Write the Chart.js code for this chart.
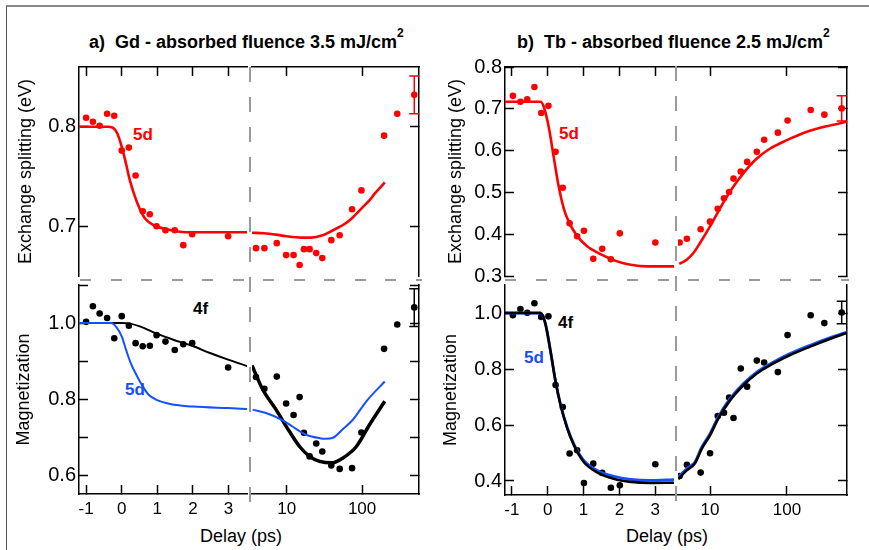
<!DOCTYPE html>
<html>
<head>
<meta charset="utf-8">
<script src="https://cdn.jsdelivr.net/npm/chart.js@4.4.1/dist/chart.umd.min.js"></script>
<style>
  body { margin: 0; background: #fff; }
  #fig { position: relative; width: 869px; height: 550px; overflow: hidden; font-family: "Liberation Sans", Arial, sans-serif; color: #000; }
  #fig canvas { position: absolute; }
  .frame { position: absolute; left: 6px; top: 5px; width: 900px; height: 600px; border-top: 2px solid #888; border-left: 1.5px solid #555; }
  .vdash { position: absolute; width: 2px; background: repeating-linear-gradient(to bottom, #9a9a9a 0 15px, transparent 15px 30px); }
  .hdash { position: absolute; height: 2px; background: repeating-linear-gradient(to right, #9a9a9a 0 11px, transparent 11px 30.5px); }
  .ttl { position: absolute; font: bold 18px/18px "Liberation Sans", Arial, sans-serif; white-space: nowrap; }
  .ttl sup { font-size: 12px; vertical-align: baseline; position: relative; top: -11.5px; margin-left: 0; }
  .xlab { position: absolute; font: 18px/18px "Liberation Sans", Arial, sans-serif; white-space: nowrap; }
  .tag { position: absolute; font: bold 17px/17px "Liberation Sans", Arial, sans-serif; }
</style>
</head>
<body>
<div id="fig">
  <div class="frame"></div>
  <div class="vdash" style="left:248.5px;top:67px;height:436px"></div>
  <div class="vdash" style="left:674.7px;top:66px;height:437px"></div>
  <div class="hdash" style="left:80px;top:278.5px;width:342px"></div>
  <div class="hdash" style="left:505px;top:279px;width:344px"></div>
  <div class="ttl" style="left:89px;top:33px">a)&nbsp; Gd - absorbed fluence 3.5 mJ/cm<sup>2</sup></div>
  <div class="ttl" style="left:517px;top:33px">b)&nbsp; Tb - absorbed fluence 2.5 mJ/cm<sup>2</sup></div>
  <div class="xlab" style="left:200px;top:527px">Delay (ps)</div>
  <div class="xlab" style="left:626px;top:527px">Delay (ps)</div>
  <div class="tag" style="left:133px;top:126px;color:#ff0000">5d</div>
  <div class="tag" style="left:193px;top:300px;color:#000">4f</div>
  <div class="tag" style="left:125px;top:381px;color:#1450ff">5d</div>
  <div class="tag" style="left:559px;top:124.5px;color:#ff0000">5d</div>
  <div class="tag" style="left:558px;top:314px;color:#000">4f</div>
  <div class="tag" style="left:524px;top:349px;color:#1450ff">5d</div>
</div>
<script>
// ticks
const delayLinTicks = [-1, 0, 1, 2, 3];
const delayLogTicks = [10, 100];
const gdEsTicks = [0.7, 0.8];
const gdEsTickLabels = ['0.7', '0.8'];
const gdMagTicks = [0.6, 0.7, 0.8, 0.9, 1.0, 1.1];
const gdMagTickLabels = ['0.6', '0.8', '1.0'];
const tbEsTicks = [0.3, 0.4, 0.5, 0.6, 0.7, 0.8];
const tbEsTickLabels = ['0.3', '0.4', '0.5', '0.6', '0.7', '0.8'];
const tbMagTicks = [0.4, 0.6, 0.8, 1.0];
const tbMagTickLabels = ['0.4', '0.6', '0.8', '1.0'];

// Gd measured points (delay in ps)
const gdDelay = [-1.0, -0.81, -0.62, -0.41, -0.21, 0.0, 0.2, 0.39, 0.59, 0.79, 0.98, 1.23, 1.49, 1.73, 1.98, 2.99,
  3.9, 5.04, 7.36, 9.8, 12.3, 14.8, 16.9, 20.1, 24.6, 29.6, 39, 50.4, 73.6, 98, 196, 293, 493];
const gdExchange = [0.809, 0.805, 0.801, 0.813, 0.811, 0.776, 0.779, 0.751, 0.715, 0.712, 0.700, 0.696, 0.696, 0.681, 0.692, 0.690,
  0.678, 0.678, 0.683, 0.671, 0.671, 0.661, 0.677, 0.677, 0.673, 0.668, 0.686, 0.691, 0.717, 0.736, 0.791, 0.813, 0.832];
const gdMag4f = [1.003, 1.044, 1.025, 1.013, 0.960, 1.018, 0.993, 0.947, 0.939, 0.940, 0.968, 0.951, 0.929, 0.944, 0.947, 0.883,
  0.858, 0.827, 0.859, 0.788, 0.758, 0.805, 0.711, 0.649, 0.683, 0.662, 0.625, 0.616, 0.618, 0.712, 0.932, 0.996, 1.041];
const gdExchangeErr = [0.813, 0.851];
const gdMagErr = [0.991, 1.090];

// Gd model curves
const gdEsFitLinT = [-1.2, -0.4, -0.25, -0.12, 0, 0.12, 0.23, 0.36, 0.5, 0.65, 0.9, 1.26, 1.82, 2.5, 3.52];
const gdEsFitLinV = [0.800, 0.800, 0.799, 0.793, 0.780, 0.763, 0.746, 0.731, 0.718, 0.708, 0.701, 0.697, 0.694, 0.694, 0.694];
const gdEsFitLogT = [3.45, 5, 7.2, 9.8, 15.5, 21, 30, 41, 55, 68.5, 85, 103, 125, 148, 175, 200];
const gdEsFitLogV = [0.6935, 0.693, 0.6916, 0.690, 0.6886, 0.6886, 0.691, 0.696, 0.701, 0.706, 0.713, 0.7195, 0.726, 0.733, 0.739, 0.744];
const gd4fFitLinT = [-1.2, 0, 0.2, 0.51, 0.98, 1.45, 1.98, 2.48, 2.99, 3.52];
const gd4fFitLinV = [1.0, 1.0, 0.999, 0.991, 0.972, 0.956, 0.940, 0.921, 0.9035, 0.887];
const gd5dFitLinT = [-1.2, -0.3, -0.14, 0, 0.12, 0.25, 0.42, 0.58, 0.75, 1.0, 1.36, 2.0, 3.0, 3.52];
const gd5dFitLinV = [1.0, 1.0, 0.988, 0.965, 0.93, 0.895, 0.862, 0.835, 0.812, 0.797, 0.787, 0.780, 0.776, 0.774];
const gd4fFitLogT = [3.45, 4.79, 7.2, 10.8, 14.8, 20, 27.3, 39, 55.8, 84, 126, 200];
const gd4fFitLogV = [0.888, 0.825, 0.772, 0.715, 0.675, 0.649, 0.636, 0.632, 0.645, 0.675, 0.733, 0.794];
const gd5dFitLogT = [3.52, 5.3, 8.85, 12, 18.1, 27.3, 33, 41, 55.8, 75.9, 114, 200];
const gd5dFitLogV = [0.772, 0.763, 0.744, 0.727, 0.706, 0.697, 0.6955, 0.698, 0.721, 0.746, 0.794, 0.846];

// Tb measured points
const tbDelay = [-0.97, -0.76, -0.57, -0.37, -0.18, 0.02, 0.22, 0.42, 0.61, 0.82, 1.01, 1.27, 1.52, 1.76, 2.01, 3.0,
  4.02, 5.0, 7.55, 10.0, 12.6, 15.2, 17.7, 20.2, 25.1, 30.4, 40.6, 50.6, 76.3, 102, 204, 307, 516];
const tbExchange = [0.731, 0.717, 0.723, 0.752, 0.690, 0.707, 0.597, 0.511, 0.426, 0.395, 0.408, 0.341, 0.365, 0.340, 0.402, 0.380,
  0.380, 0.389, 0.412, 0.430, 0.461, 0.486, 0.501, 0.533, 0.550, 0.573, 0.597, 0.626, 0.643, 0.672, 0.697, 0.686, 0.701];
const tbMag4f = [0.992, 1.014, 1.001, 1.035, 0.986, 0.988, 0.743, 0.664, 0.498, 0.510, 0.393, 0.462, 0.429, 0.376, 0.385, 0.460,
  0.418, 0.458, 0.430, 0.499, 0.632, 0.644, 0.698, 0.625, 0.802, 0.737, 0.830, 0.823, 0.789, 0.921, 0.992, 0.964, 1.002];
const tbExchangeErr = [0.671, 0.731];
const tbMagErr = [0.962, 1.042];

// Tb model curves
const tbEsFitLinT = [-1.2, -0.2, -0.11, 0.028, 0.167, 0.307, 0.447, 0.586, 0.819, 1.098, 1.47, 1.935, 2.307, 2.77, 3.52];
const tbEsFitLinV = [0.717, 0.717, 0.705, 0.657, 0.585, 0.514, 0.462, 0.430, 0.396, 0.371, 0.3525, 0.335, 0.327, 0.323, 0.323];
const tbEsFitLogT = [3.98, 4.97, 6.07, 7.41, 10, 13.5, 18.2, 27.2, 40.6, 60.6, 100, 182, 331, 605];
const tbEsFitLogV = [0.329, 0.339, 0.355, 0.379, 0.4185, 0.462, 0.502, 0.546, 0.581, 0.605, 0.625, 0.645, 0.6585, 0.669];
const tbFitLinT = [-1.2, -0.2, -0.065, 0.074, 0.214, 0.353, 0.54, 0.726, 1.005, 1.377, 1.842, 2.307, 2.865, 3.52];
const tb5dFitLinV = [1.0, 1.0, 0.962, 0.867, 0.760, 0.676, 0.593, 0.533, 0.474, 0.438, 0.417, 0.406, 0.402, 0.405];
const tb4fFitLinV = [1.0, 1.0, 0.962, 0.867, 0.759, 0.674, 0.590, 0.529, 0.468, 0.431, 0.408, 0.397, 0.393, 0.394];
const tbFitLogT = [3.86, 4.97, 6.37, 7.79, 10, 12.8, 18.2, 27.2, 40.6, 67, 110, 201, 367, 606];
const tb5dFitLogV = [0.414, 0.444, 0.468, 0.521, 0.569, 0.629, 0.694, 0.748, 0.789, 0.825, 0.855, 0.885, 0.912, 0.932];
const tb4fFitLogV = [0.407, 0.438, 0.463, 0.515, 0.563, 0.623, 0.688, 0.742, 0.784, 0.820, 0.850, 0.880, 0.908, 0.929];

const RED = '#ff0000';
const BLUE = '#1450ff';
const BLACK = '#000000';
const FONT = "'Liberation Sans', Arial, sans-serif";
Chart.defaults.font.family = FONT;
Chart.defaults.color = '#000';

const fig = document.getElementById('fig');
const isLin = t => t < 3.5;
const isLog = t => t >= 3.5;

// error bars drawn with the chart's own scales
const errorBars = {
  id: 'errorBars',
  afterDatasetsDraw(chart) {
    const ctx = chart.ctx;
    const xs = chart.scales.x, ys = chart.scales.y;
    chart.data.datasets.forEach(ds => {
      if (!ds.errRange) return;
      ds.data.forEach(p => {
        const px = xs.getPixelForValue(p.x);
        const lo = ys.getPixelForValue(ds.errRange[0]);
        const hi = ys.getPixelForValue(ds.errRange[1]);
        ctx.save();
        ctx.strokeStyle = ds.borderColor;
        ctx.lineWidth = 1.5;
        ctx.beginPath();
        ctx.moveTo(px, lo); ctx.lineTo(px, hi);
        ctx.moveTo(px - 5, lo); ctx.lineTo(px + 5, lo);
        ctx.moveTo(px - 5, hi); ctx.lineTo(px + 5, hi);
        ctx.stroke();
        ctx.restore();
      });
    });
  }
};

function points(ts, vs, keep, color) {
  return {
    data: ts.map((t, i) => ({x: t, y: vs[i]})).filter(p => keep(p.x)),
    backgroundColor: color, borderColor: color,
    pointRadius: 3.3, pointBorderWidth: 0, showLine: false
  };
}
function errPoint(ts, vs, range, color) {
  const i = ts.length - 1;
  return {data: [{x: ts[i], y: vs[i]}], errRange: range, borderColor: color, backgroundColor: color,
    pointRadius: 0, showLine: false};
}
function curve(ts, vs, color, width) {
  return {
    data: ts.map((t, i) => ({x: t, y: vs[i]})),
    borderColor: color, borderWidth: width, pointRadius: 0, showLine: true,
    cubicInterpolationMode: 'monotone', fill: false
  };
}

function axis(o) {
  return {
    type: o.type || 'linear',
    position: o.position,
    min: o.min, max: o.max,
    afterBuildTicks: s => { s.ticks = o.ticks.map(v => ({value: v})); },
    ticks: {
      display: !!o.labels, autoSkip: false, maxRotation: 0, minRotation: 0,
      padding: o.horizontal ? 14 : 12,
      font: {size: o.horizontal ? 17 : 20},
      color: '#000',
      callback: v => {
        if (!o.labels) return '';
        const s = o.horizontal ? String(v) : Number(v).toFixed(1);
        return o.labels.includes(s) ? s : '';
      }
    },
    grid: {drawOnChartArea: false, drawTicks: true, tickLength: -9, tickWidth: 1.5, tickColor: '#000', color: '#000'},
    border: {display: true, color: '#000', width: 1.5},
    title: o.title ? {display: true, text: o.title, font: {size: 18}, padding: {top: o.titlePad, bottom: 0}, color: '#000'} : {display: false}
  };
}

function plot(area, pad, scales, datasets) {
  const [l, t, r, b] = area;
  const w = r - l + pad[0] + pad[2];
  const h = b - t + pad[1] + pad[3];
  const c = document.createElement('canvas');
  c.width = w; c.height = h;
  c.style.left = (l - pad[0]) + 'px';
  c.style.top = (t - pad[1]) + 'px';
  c.style.width = w + 'px';
  c.style.height = h + 'px';
  fig.appendChild(c);
  const sides = {left: pad[0], top: pad[1], right: pad[2], bottom: pad[3]};
  const layoutPad = Object.assign({}, sides);
  Object.values(scales).forEach(s => {
    const size = sides[s.position];
    layoutPad[s.position] = 0;
    s.afterFit = sc => { if (sc.isHorizontal()) sc.height = size; else sc.width = size; };
  });
  return new Chart(c, {
    type: 'scatter',
    data: {datasets},
    options: {
      responsive: false, animation: false,
      layout: {padding: layoutPad},
      plugins: {legend: {display: false}, tooltip: {enabled: false}},
      scales
    },
    plugins: [errorBars]
  });
}

// ---- panel a: Gd ----
plot([79, 67, 247, 276], [79, 24, 12, 24], {
  x: axis({position: 'top', horizontal: true, min: -1.2, max: 3.52, ticks: delayLinTicks}),
  y: axis({position: 'left', min: 0.65, max: 0.86, ticks: gdEsTicks, labels: gdEsTickLabels,
    title: 'Exchange splitting (eV)', titlePad: 15.7})
}, [
  curve(gdEsFitLinT, gdEsFitLinV, RED, 2.6),
  points(gdDelay, gdExchange, isLin, RED)
]);
plot([252, 67, 419, 276], [12, 24, 12, 24], {
  x: axis({type: 'logarithmic', position: 'top', horizontal: true, min: 3.45, max: 570, ticks: delayLogTicks}),
  y: axis({position: 'right', min: 0.65, max: 0.86, ticks: gdEsTicks})
}, [
  curve(gdEsFitLogT, gdEsFitLogV, RED, 2.6),
  points(gdDelay, gdExchange, isLog, RED),
  errPoint(gdDelay, gdExchange, gdExchangeErr, RED)
]);
plot([79, 285, 247, 494], [79, 24, 12, 45], {
  x: axis({position: 'bottom', horizontal: true, min: -1.2, max: 3.52, ticks: delayLinTicks, labels: ['-1', '0', '1', '2', '3']}),
  y: axis({position: 'left', min: 0.55, max: 1.1, ticks: gdMagTicks, labels: gdMagTickLabels,
    title: 'Magnetization', titlePad: 13.5})
}, [
  curve(gd5dFitLinT, gd5dFitLinV, BLUE, 2),
  curve(gd4fFitLinT, gd4fFitLinV, BLACK, 2),
  points(gdDelay, gdMag4f, isLin, BLACK)
]);
plot([252, 285, 419, 494], [12, 24, 12, 45], {
  x: axis({type: 'logarithmic', position: 'bottom', horizontal: true, min: 3.45, max: 570, ticks: delayLogTicks, labels: ['10', '100']}),
  y: axis({position: 'right', min: 0.55, max: 1.1, ticks: gdMagTicks})
}, [
  curve(gd5dFitLogT, gd5dFitLogV, BLUE, 2),
  curve(gd4fFitLogT, gd4fFitLogV, BLACK, 3.5),
  points(gdDelay, gdMag4f, isLog, BLACK),
  errPoint(gdDelay, gdMag4f, gdMagErr, BLACK)
]);

// ---- panel b: Tb ----
plot([505, 67, 674, 276], [75, 24, 12, 24], {
  x: axis({position: 'top', horizontal: true, min: -1.19, max: 3.52, ticks: delayLinTicks}),
  y: axis({position: 'left', min: 0.3, max: 0.8, ticks: tbEsTicks, labels: tbEsTickLabels,
    title: 'Exchange splitting (eV)', titlePad: 15.7})
}, [
  curve(tbEsFitLinT, tbEsFitLinV, RED, 2.6),
  points(tbDelay, tbExchange, isLin, RED)
]);
plot([678, 67, 847, 276], [12, 24, 12, 24], {
  x: axis({type: 'logarithmic', position: 'top', horizontal: true, min: 3.83, max: 605, ticks: delayLogTicks}),
  y: axis({position: 'right', min: 0.3, max: 0.8, ticks: tbEsTicks})
}, [
  curve(tbEsFitLogT, tbEsFitLogV, RED, 2.6),
  points(tbDelay, tbExchange, isLog, RED),
  errPoint(tbDelay, tbExchange, tbExchangeErr, RED)
]);
plot([505, 285, 674, 495], [75, 24, 12, 45], {
  x: axis({position: 'bottom', horizontal: true, min: -1.19, max: 3.52, ticks: delayLinTicks, labels: ['-1', '0', '1', '2', '3']}),
  y: axis({position: 'left', min: 0.35, max: 1.1, ticks: tbMagTicks, labels: tbMagTickLabels,
    title: 'Magnetization', titlePad: 10})
}, [
  curve(tbFitLinT, tb4fFitLinV, BLACK, 2.6),
  curve(tbFitLinT, tb5dFitLinV, BLUE, 2.8),
  points(tbDelay, tbMag4f, isLin, BLACK)
]);
plot([678, 285, 847, 495], [12, 24, 12, 45], {
  x: axis({type: 'logarithmic', position: 'bottom', horizontal: true, min: 3.83, max: 605, ticks: delayLogTicks, labels: ['10', '100']}),
  y: axis({position: 'right', min: 0.35, max: 1.1, ticks: tbMagTicks})
}, [
  curve(tbFitLogT, tb4fFitLogV, BLACK, 2.6),
  curve(tbFitLogT, tb5dFitLogV, BLUE, 2.8),
  points(tbDelay, tbMag4f, isLog, BLACK),
  errPoint(tbDelay, tbMag4f, tbMagErr, BLACK)
]);
</script>
</body>
</html>
